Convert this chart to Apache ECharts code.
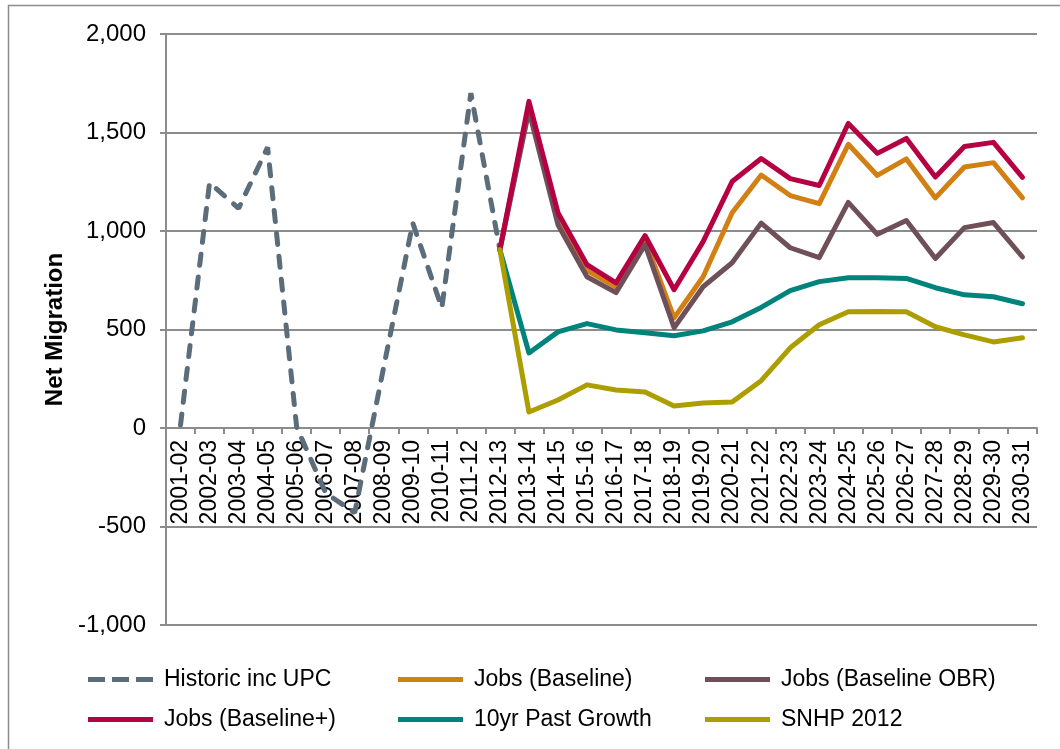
<!DOCTYPE html>
<html>
<head>
<meta charset="utf-8">
<script src="https://cdn.jsdelivr.net/npm/echarts@6/dist/echarts.min.js"></script>
<style>
  html, body { margin: 0; padding: 0; background: #fff; }
  #chart { width: 1060px; height: 749px; }
</style>
</head>
<body>
<div id="chart"></div>
<script>
// Financial years on the category axis
const years = ['2001-02','2002-03','2003-04','2004-05','2005-06','2006-07','2007-08','2008-09','2009-10','2010-11',
  '2011-12','2012-13','2013-14','2014-15','2015-16','2016-17','2017-18','2018-19','2019-20','2020-21',
  '2021-22','2022-23','2023-24','2024-25','2025-26','2026-27','2027-28','2028-29','2029-30','2030-31'];

const pad = n => Array(n).fill(null);

// Recorded net migration up to 2012-13
const historic = [15, 1245, 1115, 1425, 5, -330, -430, 310, 1040, 610, 1700, 905].concat(pad(18));

// Projection scenarios from 2012-13 onwards
const jobsBaseline = pad(11).concat([905, 1635, 1065, 800, 715, 955, 559, 768, 1093, 1284, 1180, 1139, 1440, 1282, 1366, 1168, 1325, 1347, 1168]);
const jobsBaselineOBR = pad(11).concat([905, 1610, 1032, 768, 687, 930, 509, 717, 839, 1040, 915, 865, 1145, 983, 1053, 860, 1017, 1043, 868]);
const jobsBaselinePlus = pad(11).concat([905, 1658, 1093, 829, 737, 977, 702, 946, 1251, 1368, 1266, 1231, 1546, 1394, 1470, 1274, 1429, 1450, 1272]);
const pastGrowth10yr = pad(11).concat([905, 381, 488, 530, 498, 483, 468, 493, 539, 612, 697, 743, 763, 763, 759, 712, 676, 666, 631]);
const snhp2012 = pad(11).concat([905, 81, 142, 219, 193, 183, 112, 127, 132, 240, 407, 524, 590, 592, 590, 514, 473, 437, 458]);

// Value axis ticks
const yMin = -1000, yMax = 2000, yStep = 500;

const FONT = '"Liberation Sans", Arial, sans-serif';
const GRID = '#8c8c8c';
const GRID_TOP = 34, GRID_BOTTOM = 124, CHART_H = 749;

// Legend key shapes: a solid bar and a run of three dashes
const ICON_SOLID = 'path://M0,0h65v5h-65z';
const ICON_DASHED = 'path://M0,0h17v5h-17z M24,0h17v5h-17z M48,0h17v5h-17z';

const chart = echarts.init(document.getElementById('chart'), null, { renderer: 'canvas' });

function line(name, data, color, dashed) {
  return {
    name: name,
    type: 'line',
    data: data,
    symbol: 'none',
    connectNulls: false,
    lineStyle: dashed
      ? { color: color, width: 5, type: [11, 12], cap: 'round' }
      : { color: color, width: 5, cap: 'round', join: 'round' },
    itemStyle: { color: color }
  };
}

function legendColumn(left, items) {
  return {
    orient: 'vertical',
    left: left,
    top: 663,
    itemWidth: 65,
    itemHeight: 5,
    itemGap: 17,
    data: items,
    textStyle: { fontFamily: FONT, fontSize: 23, color: '#000', padding: [0, 0, 0, 6] }
  };
}

// Distance from the bottom of the plot up to the zero line
const plotH = CHART_H - GRID_TOP - GRID_BOTTOM;
const zeroOffset = plotH * (0 - yMin) / (yMax - yMin);

chart.setOption({
  animation: false,
  backgroundColor: '#fff',
  graphic: [{
    type: 'rect',
    shape: { x: 8.5, y: 5.5, width: 1200, height: 900 },
    style: { fill: 'none', stroke: '#8c8c8c', lineWidth: 1.5 },
    silent: true
  }],
  grid: { left: 166, right: 23, top: GRID_TOP, bottom: GRID_BOTTOM, containLabel: false },
  legend: [
    legendColumn(83, [
      { name: 'Historic inc UPC', icon: ICON_DASHED },
      { name: 'Jobs (Baseline+)', icon: ICON_SOLID }
    ]),
    legendColumn(393, [
      { name: 'Jobs (Baseline)', icon: ICON_SOLID },
      { name: '10yr Past Growth', icon: ICON_SOLID }
    ]),
    legendColumn(700, [
      { name: 'Jobs (Baseline OBR)', icon: ICON_SOLID },
      { name: 'SNHP 2012', icon: ICON_SOLID }
    ])
  ],
  xAxis: {
    type: 'category',
    data: years,
    boundaryGap: true,
    position: 'bottom',
    offset: -zeroOffset,
    axisLine: { onZero: false, lineStyle: { color: GRID, width: 2 } },
    axisTick: { show: true, length: 6, lineStyle: { color: GRID, width: 2 } },
    axisLabel: { rotate: 90, interval: 0, margin: 12, fontFamily: FONT, fontSize: 23, color: '#000' },
    splitLine: { show: false }
  },
  yAxis: {
    type: 'value',
    min: yMin,
    max: yMax,
    interval: yStep,
    name: 'Net Migration',
    nameLocation: 'middle',
    nameGap: 96,
    nameTextStyle: { fontFamily: FONT, fontSize: 24, fontWeight: 'bold', color: '#000' },
    axisLine: { show: true, lineStyle: { color: GRID, width: 2 } },
    axisTick: { show: true, length: 6, lineStyle: { color: GRID, width: 2 } },
    axisLabel: {
      margin: 20,
      fontFamily: FONT, fontSize: 24, color: '#000',
      formatter: v => v.toLocaleString('en-GB')
    },
    splitLine: { show: true, lineStyle: { color: GRID, width: 2 } }
  },
  series: [
    line('Historic inc UPC', historic, '#5b6c7b', true),
    line('Jobs (Baseline)', jobsBaseline, '#d27f14', false),
    line('Jobs (Baseline OBR)', jobsBaselineOBR, '#6f5058', false),
    line('Jobs (Baseline+)', jobsBaselinePlus, '#b50043', false),
    line('10yr Past Growth', pastGrowth10yr, '#00837b', false),
    line('SNHP 2012', snhp2012, '#ad9e00', false)
  ]
});
</script>
</body>
</html>
